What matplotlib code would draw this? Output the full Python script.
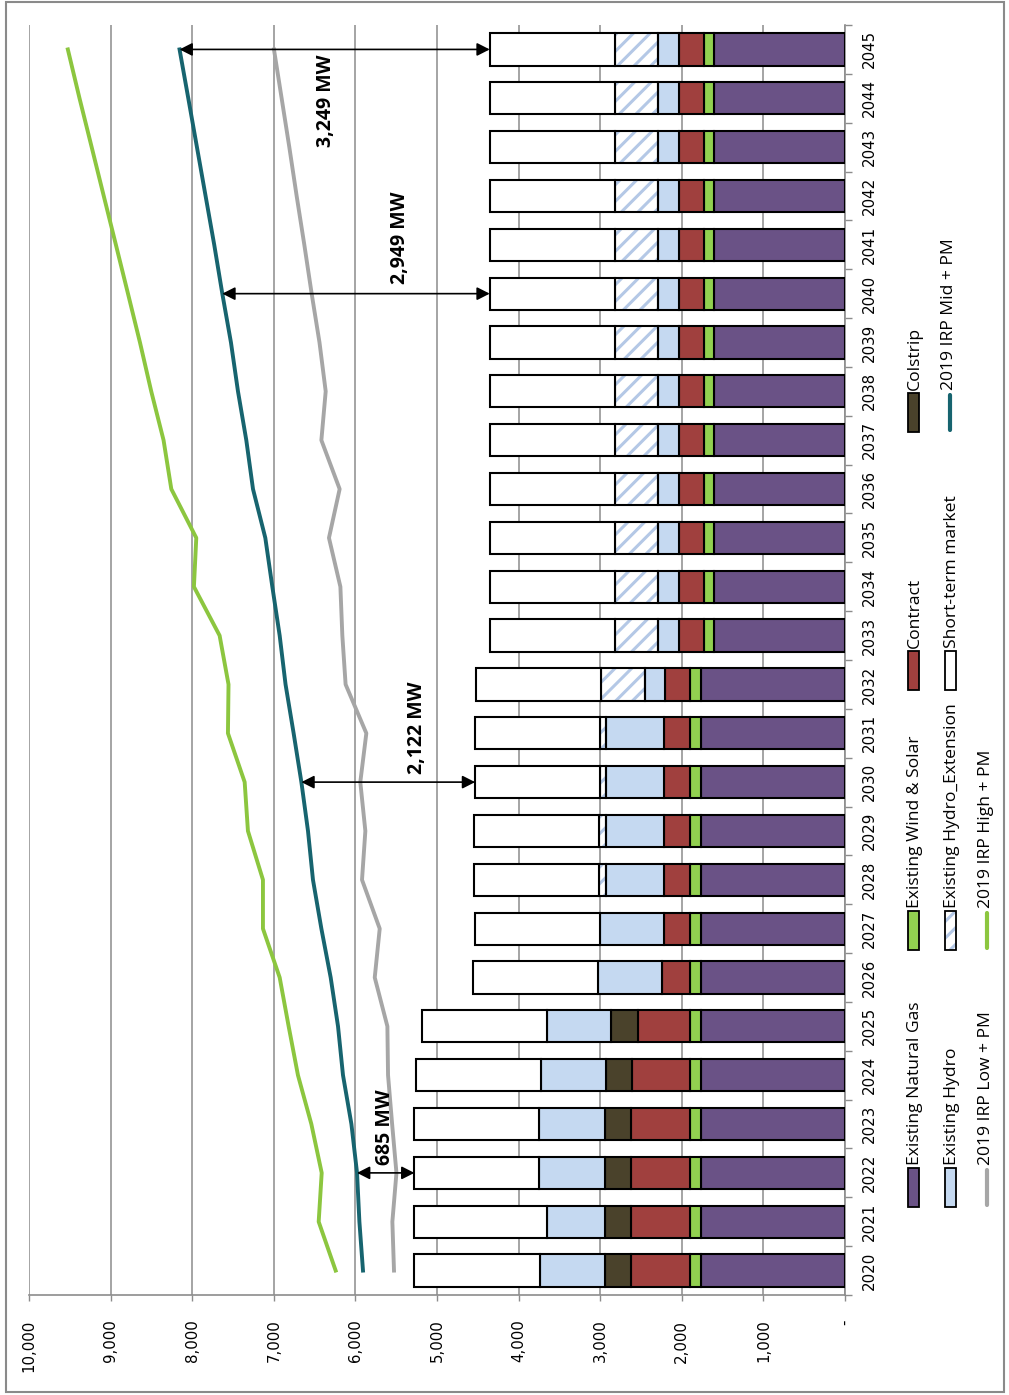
import matplotlib
matplotlib.use("Agg")
import matplotlib.pyplot as plt
from matplotlib.patches import Rectangle
from matplotlib.lines import Line2D
import numpy as np

plt.rcParams["font.family"] = ["DejaVu Sans"]
plt.rcParams["hatch.linewidth"] = 2.2

years = list(range(2020, 2046))

gas = [1765, 1765, 1765, 1765, 1765, 1765, 1765, 1765, 1765, 1765, 1765, 1765, 1765,
       1600, 1600, 1600, 1600, 1600, 1600, 1600, 1600, 1600, 1600, 1600, 1600, 1600]
wind_solar = [135, 135, 135, 135, 135, 135, 135, 135, 135, 135, 135, 135, 135,
              130, 130, 130, 130, 130, 130, 130, 130, 130, 130, 130, 130, 130]
contract = [728, 728, 728, 728, 711, 637, 344, 320, 320, 320, 320, 320, 307,
            303, 303, 303, 303, 303, 303, 303, 303, 303, 303, 303, 303, 303]
colstrip = [319, 319, 319, 319, 319, 331, 0, 0, 0, 0, 0, 0, 0,
            0, 0, 0, 0, 0, 0, 0, 0, 0, 0, 0, 0, 0]
hydro = [789, 711, 802, 802, 801, 789, 777, 784, 711, 711, 711, 711, 249,
         257, 257, 257, 257, 257, 257, 257, 257, 257, 257, 257, 257, 257]
hydro_ext = [0, 0, 0, 0, 0, 0, 0, 0, 82, 82, 73, 73, 532,
             531, 531, 531, 531, 531, 531, 531, 531, 531, 531, 531, 531, 531]
market = [1541, 1619, 1528, 1528, 1532, 1525, 1537, 1536, 1532, 1532, 1529, 1529, 1537,
          1533, 1533, 1533, 1533, 1533, 1533, 1533, 1533, 1533, 1533, 1533, 1533, 1533]

irp_low = [5527, 5547, 5497, 5550, 5600, 5608, 5763, 5702, 5919, 5878, 5940, 5866, 6120,
           6160, 6184, 6324, 6193, 6417, 6364, 6440, 6536, 6626, 6720, 6810, 6904, 6998]
irp_mid = [5907, 5951, 5980, 6049, 6152, 6213, 6303, 6417, 6520, 6581, 6662, 6757, 6856,
           6928, 7018, 7104, 7255, 7337, 7439, 7525, 7631, 7730, 7836, 7942, 8048, 8155]
irp_high = [6242, 6450, 6413, 6540, 6704, 6818, 6928, 7133, 7133, 7317, 7357, 7562, 7555,
            7664, 7979, 7950, 8256, 8351, 8502, 8640, 8787, 8935, 9084, 9232, 9381, 9524]

value_ticks = [0, 1000, 2000, 3000, 4000, 5000, 6000, 7000, 8000, 9000, 10000]
value_labels = ["-", "1,000", "2,000", "3,000", "4,000", "5,000",
                "6,000", "7,000", "8,000", "9,000", "10,000"]

gap_years = [2022, 2030, 2040, 2045]
gap_labels = ["685 MW", "2,122 MW", "2,949 MW", "3,249 MW"]
gap_text_pos = [(5641, 2022.93), (5248, 2031.11), (5457, 2041.15), (6364, 2043.95)]

c_gas = "#6a5286"
c_wind = "#92d050"
c_contract = "#a0403e"
c_colstrip = "#4a422b"
c_hydro = "#c5d9f1"
c_hatch = "#b4c8e6"
c_low = "#a6a6a6"
c_mid = "#17646f"
c_high = "#8cc63f"
c_grid = "#8c8c8c"

W, H = 1009, 1395


def fx(px):
    return px / W


def fy(py):
    return 1 - py / H


fig = plt.figure(figsize=(W / 100, H / 100), dpi=100)
ax = fig.add_axes([fx(29), fy(1295), fx(845) - fx(29), fy(25) - fy(1295)])

yrs = np.array(years)
left = np.zeros(len(years))
series = [
    (gas, c_gas, None),
    (wind_solar, c_wind, None),
    (contract, c_contract, None),
    (colstrip, c_colstrip, None),
    (hydro, c_hydro, None),
    (hydro_ext, "white", "//"),
    (market, "white", None),
]
bar_h = 0.66
for vals, col, hatch in series:
    v = np.array(vals, dtype=float)
    m = v > 0
    if hatch:
        ax.barh(yrs[m], v[m], left=left[m], height=bar_h, color="white",
                hatch=hatch, edgecolor=c_hatch, linewidth=0, zorder=2)
        ax.barh(yrs[m], v[m], left=left[m], height=bar_h, fill=False,
                edgecolor="black", linewidth=1.5, zorder=3)
    else:
        ax.barh(yrs[m], v[m], left=left[m], height=bar_h, color=col,
                edgecolor="black", linewidth=1.5, zorder=3)
    left = left + v
totals = left

ax.plot(irp_low, years, color=c_low, lw=2.8, zorder=4)
ax.plot(irp_high, years, color=c_high, lw=2.8, zorder=4)
ax.plot(irp_mid, years, color=c_mid, lw=2.8, zorder=4)

for yr, lab, (tx, ty) in zip(gap_years, gap_labels, gap_text_pos):
    i = years.index(yr)
    ax.annotate("", xy=(totals[i], yr), xytext=(irp_mid[i], yr),
                arrowprops=dict(arrowstyle="<|-|>,head_length=0.55,head_width=0.28",
                                color="black", lw=1.2, mutation_scale=14,
                                shrinkA=0, shrinkB=0), zorder=6)
    ax.text(tx, ty, lab, rotation=90, ha="center", va="center",
            fontsize=14, fontweight="bold", family=["Open Sans", "DejaVu Sans"], zorder=6)

ax.set_xlim(10000, 0)
ax.set_ylim(2019.5, 2045.5)
ax.set_xticks(value_ticks)
ax.set_xticklabels(value_labels, rotation=90)
ax.tick_params(axis="x", length=4.3, width=1, color=c_grid, pad=13.5, labelsize=10.8)

ax.yaxis.tick_right()
ax.set_yticks(np.arange(2019.5, 2046, 1.0))
ax.set_yticklabels([])
ax.set_yticks(years, minor=True)
ax.set_yticklabels([str(y) for y in years], minor=True, rotation=90, va="center")
ax.tick_params(axis="y", which="major", right=True, left=False, length=4.8, width=1,
               color=c_grid)
ax.tick_params(axis="y", which="minor", right=True, left=False, labelright=True,
               labelleft=False, length=0, pad=12, labelsize=10.8)

for s in ["top", "left"]:
    ax.spines[s].set_visible(False)
for s in ["right", "bottom"]:
    ax.spines[s].set_color(c_grid)
    ax.spines[s].set_linewidth(1.2)

ax.grid(axis="x", color=c_grid, lw=1.1)
ax.set_axisbelow(True)

# legend, drawn by hand because it is rotated with the chart
leg_font = ["Open Sans", "DejaVu Sans"]
col_y = [(1168, 1207), (911, 950), (651, 690), (393, 432)]
row_x = [908, 945, 982]
entries = [
    (0, 0, "Existing Natural Gas", "patch", c_gas, None),
    (0, 1, "Existing Wind & Solar", "patch", c_wind, None),
    (0, 2, "Contract", "patch", c_contract, None),
    (0, 3, "Colstrip", "patch", c_colstrip, None),
    (1, 0, "Existing Hydro", "patch", c_hydro, None),
    (1, 1, "Existing Hydro_Extension", "patch", "white", "//"),
    (1, 2, "Short-term market", "patch", "white", None),
    (1, 3, "2019 IRP Mid + PM", "line", c_mid, None),
    (2, 0, "2019 IRP Low + PM", "line", c_low, None),
    (2, 1, "2019 IRP High + PM", "line", c_high, None),
]
for r, c, lab, kind, col, hatch in entries:
    x0 = row_x[r]
    ytop, ybot = col_y[c]
    if kind == "patch":
        if hatch:
            fig.add_artist(Rectangle((fx(x0), fy(ybot)), fx(11), fy(ytop) - fy(ybot),
                                     transform=fig.transFigure, facecolor="white",
                                     hatch=hatch, edgecolor=c_hatch, lw=0))
            fig.add_artist(Rectangle((fx(x0), fy(ybot)), fx(11), fy(ytop) - fy(ybot),
                                     transform=fig.transFigure, fill=False,
                                     edgecolor="black", lw=1.3))
        else:
            fig.add_artist(Rectangle((fx(x0), fy(ybot)), fx(11), fy(ytop) - fy(ybot),
                                     transform=fig.transFigure, facecolor=col,
                                     edgecolor="black", lw=1.3))
        tx = x0 + 7
    else:
        lx = x0 + 5
        fig.add_artist(Line2D([fx(lx), fx(lx)], [fy(ybot - 2), fy(ytop + 2)],
                              transform=fig.transFigure, color=col, lw=3,
                              solid_capstyle="round"))
        tx = lx - 1
    fig.text(fx(tx), fy(ytop - 3), lab, rotation=90, ha="center", va="bottom",
             fontsize=12.6, family=leg_font)

fig.add_artist(Rectangle((fx(6), fy(1392)), fx(1004) - fx(6), fy(2) - fy(1392),
                         transform=fig.transFigure, fill=False,
                         edgecolor="#8a8a8a", lw=1.5))

fig.savefig("out.png", dpi=100)
